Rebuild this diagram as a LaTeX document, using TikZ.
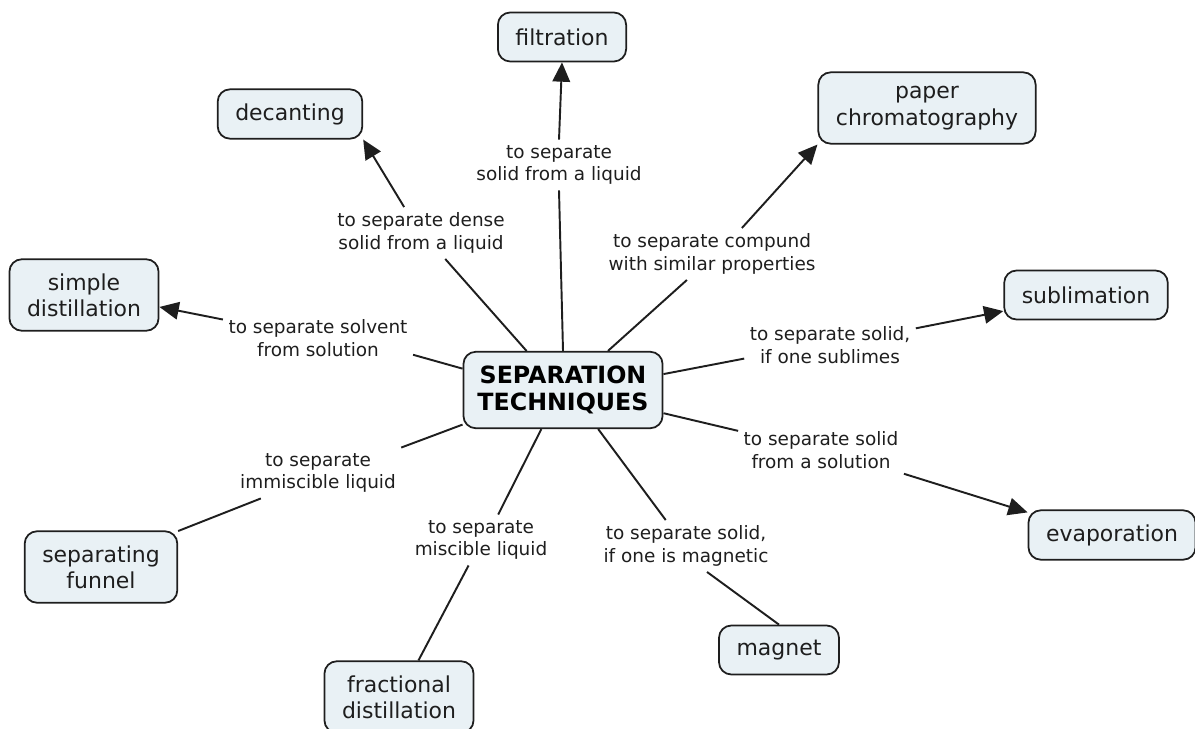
\documentclass[tikz,border=0pt]{standalone}
\usepackage{fontspec}
\setmainfont{DejaVu Sans}
\usetikzlibrary{arrows.meta}
\definecolor{cmfill}{RGB}{233,241,245}
\definecolor{cmline}{RGB}{30,30,30}

\begin{document}
\begin{tikzpicture}[x=0.02cm,y=-0.02cm,
  concept/.style={draw=cmline,fill=cmfill,rounded corners=7pt,line width=1pt,
    align=center,inner xsep=10pt,inner ysep=8pt,minimum height=0.98cm,
    font=\fontsize{12.5}{15}\selectfont,text=cmline},
  hubbox/.style={concept,inner xsep=8pt,font=\fontsize{13.5}{15.5}\selectfont\bfseries,text=black},
  linklabel/.style={align=center,inner sep=3pt,
    font=\fontsize{10.5}{13}\selectfont,text=cmline},
  link/.style={line width=1.1pt,draw=cmline},
  arrlink/.style={link,-{Triangle[length=11pt,width=10pt]}}
]
  \useasboundingbox (0,0) rectangle (1195,729);

  % Concepts
  \node[hubbox] (hub) at (563,390) {SEPARATION\\TECHNIQUES};
  \node[concept] (filt) at (562,37) {filtration};
  \node[concept] (decant) at (290,114) {decanting};
  \node[concept] (paper) at (927,108) {paper\\chromatography};
  \node[concept] (sdist) at (84,295) {simple\\distillation};
  \node[concept] (subl) at (1086,295) {sublimation};
  \node[concept] (evap) at (1112,535) {evaporation};
  \node[concept] (funnel) at (101,567) {separating\\funnel};
  \node[concept] (fdist) at (399,697) {fractional\\distillation};
  \node[concept] (magnet) at (779,650) {magnet};

  % Linking phrases
  \node[linklabel] (ldecant) at (421,233) {to separate dense\\solid from a liquid};
  \node[linklabel] (lfilt) at (559,165) {to separate\\solid from a liquid};
  \node[linklabel] (lpaper) at (712,254) {to separate compund\\with similar properties};
  \node[linklabel] (lsdist) at (318,338) {to separate solvent\\from solution};
  \node[linklabel] (lsubl) at (830,345) {to separate solid,\\if one sublimes};
  \node[linklabel] (levap) at (821,450) {to separate solid\\from a solution};
  \node[linklabel] (lfunnel) at (318,473) {to separate\\immiscible liquid};
  \node[linklabel] (lfdist) at (481,540) {to separate\\miscible liquid};
  \node[linklabel] (lmagnet) at (686,546) {to separate solid,\\if one is magnetic};

  % Connectors
  \draw[link] (hub.133) -- (ldecant.-47);
  \draw[arrlink] (ldecant.123) -- (decant.south east);
  \draw[link] (hub.north) -- (lfilt.south);
  \draw[arrlink] (lfilt.north) -- (filt.south);
  \draw[link] (hub.41) -- (lpaper.-134);
  \draw[arrlink] (lpaper.41) -- (paper.south west);
  \draw[link] (hub.168) -- (lsdist.-10);
  \draw[arrlink] (lsdist.169) -- (sdist.-9);
  \draw[link] (hub.9) -- (lsubl.-171);
  \draw[arrlink] (lsubl.11) -- (subl.191);
  \draw[link] (hub.-13) -- (levap.167);
  \draw[arrlink] (levap.-16) -- (evap.165);
  \draw[link] (hub.-161) -- (lfunnel.17);
  \draw[link] (lfunnel.-156) -- (funnel.25);
  \draw[link] (hub.-119) -- (lfdist.56);
  \draw[link] (lfdist.-116) -- (fdist.62);
  \draw[link] (hub.-48) -- (lmagnet.128);
  \draw[link] (lmagnet.-51) -- (magnet.north);
\end{tikzpicture}
\end{document}
